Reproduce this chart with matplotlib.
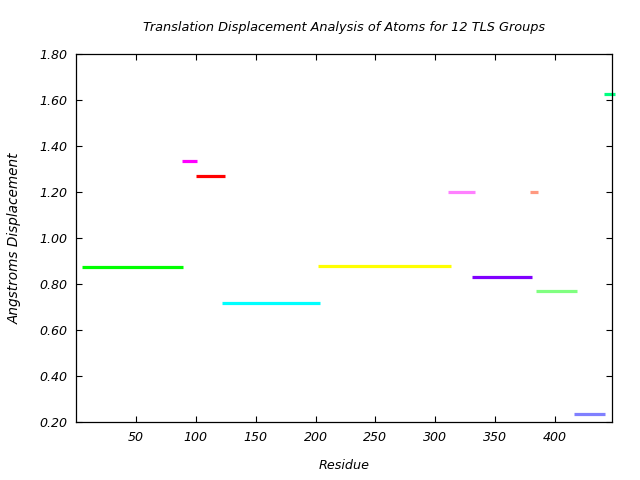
import matplotlib
matplotlib.use("Agg")
import matplotlib.pyplot as plt
from matplotlib.ticker import FormatStrFormatter

# TLS group segments: first residue, last residue, displacement
SEG_START = [5, 88, 100, 122, 202, 311, 331, 379, 384, 416, 441]
SEG_END = [89, 101, 124, 204, 313, 333, 381, 386, 418, 442, 450]
DISPLACEMENT = [0.874, 1.335, 1.270, 0.717, 0.878, 1.200, 0.830, 1.200, 0.770, 0.235, 1.626]
COLORS = ["#00ff00", "#ff00ff", "#ff0000", "#00ffff", "#ffff00", "#ff80ff",
          "#8000ff", "#ff9980", "#80ff80", "#8080ff", "#00ff80"]

X_TICKS = [50, 100, 150, 200, 250, 300, 350, 400]
Y_TICKS = [0.2, 0.4, 0.6, 0.8, 1.0, 1.2, 1.4, 1.6, 1.8]

plt.rcParams.update({
    "font.family": "DejaVu Sans",
    "font.style": "italic",
    "font.size": 9,
})

fig = plt.figure(figsize=(6.4, 4.8), dpi=100)
ax = fig.add_axes([0.119, 0.120, 0.838, 0.767])

for x0, x1, y, c in zip(SEG_START, SEG_END, DISPLACEMENT, COLORS):
    ax.plot([x0, x1], [y, y], color=c, linewidth=2.3, solid_capstyle="butt", clip_on=False)

ax.set_xlim(0, 448)
ax.set_ylim(0.2, 1.8)
ax.set_xticks(X_TICKS)
ax.set_yticks(Y_TICKS)
ax.yaxis.set_major_formatter(FormatStrFormatter("%.2f"))
ax.tick_params(direction="in", length=4, width=0.8, top=True, right=True, pad=6,
               labelsize=9.1)
for lab in ax.get_xticklabels() + ax.get_yticklabels():
    lab.set_fontstyle("italic")
for sp in ax.spines.values():
    sp.set_linewidth(0.9)

ax.set_title("Translation Displacement Analysis of Atoms for 12 TLS Groups",
             fontsize=9.3, style="italic", pad=17)
ax.set_xlabel("Residue", fontsize=9.2, style="italic", labelpad=11)
ax.set_ylabel("Angstroms Displacement", fontsize=9.8, style="italic", labelpad=13)

fig.savefig("out.png", dpi=100)
